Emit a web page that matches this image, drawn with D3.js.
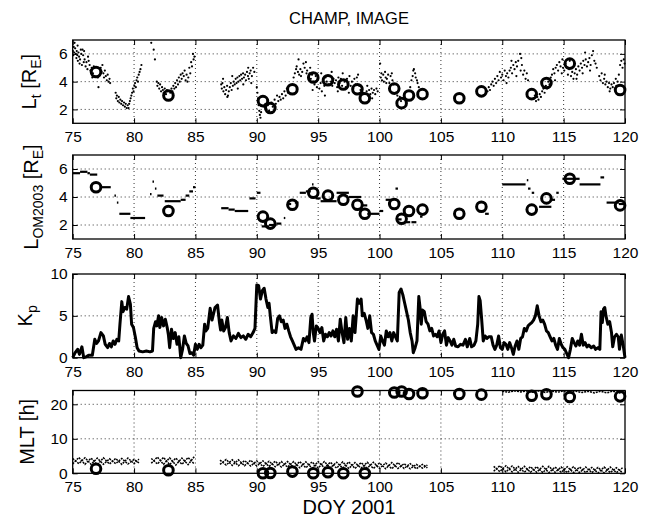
<!DOCTYPE html>
<html><head><meta charset="utf-8">
<script src="https://cdn.jsdelivr.net/npm/d3@7"></script>
<style>body{margin:0;background:#fff} text{font-family:"Liberation Sans",Arial,Helvetica,sans-serif;fill:#000}</style>
</head><body><svg id="c" width="649" height="521"></svg>
<script>
// ---------------- DATA ----------------
const xTicks = [75,80,85,90,95,100,105,110,115,120];
// IMAGE plasmapause events
const evDoy = [76.9,82.8,90.5,91.1,92.9,94.6,95.8,97.05,98.2,98.8,101.2,101.8,102.4,103.5,106.5,108.3,112.4,113.6,115.5,119.6];
const evL   = [4.7,3.0,2.6,2.1,3.45,4.3,4.1,3.8,3.45,2.8,3.5,2.45,3.0,3.1,2.8,3.3,3.1,3.9,5.3,3.4];
const evMLT = [1.3,0.9,0.0,0.1,0.5,0.0,0.3,0.0,23.7,0.0,23.4,23.7,23.0,23.2,23.0,22.8,22.5,22.9,22.1,22.3];
// CHAMP L_t points
const ltDots = [
[75.02,6.2],[75.05,5.9],[75.08,6.5],[75.12,6.1],[75.15,6.8],[75.2,6.4],[75.25,6.0],[75.3,5.7],[75.33,6.2],[75.38,5.9],[75.4,6.6],[75.42,5.5],[75.47,6.1],[75.52,5.8],[75.56,5.3],[75.6,5.6],[75.66,6.3],[75.7,6.0],[75.75,5.2],[75.8,6.3],[75.85,5.9],[75.9,5.4],[75.93,6.2],[75.97,5.6],[76.05,5.1],[76.12,5.4],[76.2,4.9],[76.25,5.8],[76.3,5.5],[76.38,5.2],[76.45,4.8],[76.55,5.0],[76.6,4.3],[76.65,4.6],[76.72,5.1],
[77.05,4.3],[77.1,3.6],[77.2,4.5],[77.28,5.0],[77.35,4.7],[77.42,5.2],[77.5,4.6],[77.55,4.3],[77.62,4.8],[77.7,4.4],[77.78,4.1],[77.85,4.5],[77.92,4.0],[78.0,4.2],[78.05,3.9],
[78.5,3.2],[78.55,2.8],[78.6,3.0],[78.68,2.6],[78.75,2.9],[78.8,2.5],[78.88,2.7],[78.95,2.4],[79.02,2.6],[79.1,2.3],[79.18,2.5],[79.25,2.2],[79.32,2.4],[79.4,2.1],[79.48,2.3],[79.55,2.1],[79.6,2.4],[79.66,2.6],[79.72,2.8],[79.78,3.0],[79.84,3.2],[79.9,3.5],[79.96,3.3],[80.02,3.7],[80.08,3.9],[80.14,3.6],[80.2,4.1],[80.26,4.3],[80.32,4.0],[80.38,4.5],[80.45,4.7],[80.52,4.9],[80.6,5.2],
[81.4,6.8],[81.6,6.3],[81.7,5.6],
[81.85,4.0],[81.9,3.7],[81.98,3.9],[82.05,3.5],[82.12,3.8],[82.2,3.3],[82.28,3.6],[82.35,3.4],[82.42,3.2],[82.5,3.5],[82.6,3.1],[82.68,3.4],[82.95,3.2],[83.05,3.5],[83.12,3.3],[83.2,3.7],[83.28,3.5],[83.35,3.9],[83.42,3.6],[83.5,4.1],[83.58,3.8],[83.65,4.3],[83.72,4.0],[83.8,4.5],[83.88,4.2],[83.95,4.6],[84.05,4.4],[84.12,4.8],[84.2,4.1],[84.28,4.5],[84.35,4.0],[84.42,4.3],[84.5,5.0],[84.58,4.6],[84.65,5.4],[84.72,5.1],[84.8,6.0],[84.85,5.6],[84.92,5.8],
[87.1,3.8],[87.15,3.5],[87.2,3.9],[87.25,4.2],[87.28,3.3],[87.35,3.6],[87.42,3.1],[87.5,3.4],[87.58,3.7],[87.6,2.9],[87.65,3.0],[87.72,3.3],[87.8,3.6],[87.88,3.9],[87.95,3.4],[88.0,4.4],[88.05,3.7],[88.12,4.0],[88.2,3.8],[88.28,4.2],[88.35,3.9],[88.42,4.3],[88.45,3.5],[88.5,4.0],[88.58,4.4],[88.65,4.1],[88.72,4.5],[88.8,4.2],[88.88,4.6],[88.9,3.8],[88.95,4.3],[89.05,4.5],[89.12,4.1],[89.2,4.7],[89.28,4.4],[89.3,5.0],[89.35,4.2],[89.42,4.6],[89.5,4.8],[89.55,3.9],[89.6,4.4],[89.7,5.0],[89.8,4.7],
[90.0,3.6],[90.05,3.2],[90.1,2.8],[90.15,2.3],[90.2,1.9],[90.25,1.6],[90.3,1.4],[90.35,1.8],
[90.6,2.2],[90.7,2.4],[90.8,2.0],[90.9,2.3],[91.0,1.9],[91.2,2.5],[91.3,2.2],[91.45,2.7],[91.55,2.4],[91.65,3.0],[91.75,2.6],[91.85,2.9],[91.95,2.7],[92.05,3.1],[92.15,2.8],[92.25,3.3],[92.35,3.0],[92.45,3.5],[92.55,3.2],[92.65,3.7],
[93.0,4.3],[93.1,4.6],[93.2,4.9],[93.25,5.1],[93.35,4.7],[93.4,5.6],[93.45,4.5],[93.55,4.9],[93.6,4.4],[93.7,4.7],[93.8,5.3],[93.9,5.0],[94.0,5.4],[94.05,4.6],[94.1,4.8],[94.2,4.3],
[94.3,4.6],[94.35,5.0],[94.4,4.2],[94.5,4.5],[94.55,3.4],[94.6,4.0],[94.7,3.8],[94.8,4.4],[94.9,3.6],[95.0,4.2],[95.1,3.5],[95.2,3.9],[95.25,4.6],[95.3,3.3],[95.4,4.1],[95.5,3.7],[95.55,3.0],[95.6,4.3],[95.7,4.0],[95.85,3.8],[95.95,4.4],[96.05,4.0],[96.1,4.7],[96.15,3.7],[96.25,4.2],[96.35,3.9],[96.45,4.1],[96.55,3.6],[96.6,3.3],[96.65,4.3],[96.75,3.9],[96.85,4.2],[96.95,3.7],[97.0,4.6],[97.15,4.0],[97.25,3.6],[97.35,4.2],[97.45,3.9],[97.5,3.2],[97.55,4.4],[97.65,3.7],[97.75,4.0],[97.85,3.5],[97.95,4.2],[98.05,3.8],[98.1,3.1],[98.15,4.3],[98.25,4.5],[98.35,3.7],[98.45,3.4],[98.55,3.6],[98.65,3.2],[98.95,3.3],[99.0,3.7],[99.05,3.0],[99.15,3.4],[99.25,3.1],[99.35,3.5],[99.4,2.8],[99.45,3.2],[99.55,3.4],[99.65,3.1],[99.75,3.5],[99.85,3.3],
[100.05,5.3],[100.1,4.3],[100.15,4.6],[100.2,4.1],[100.3,4.5],[100.35,4.0],[100.45,4.7],[100.5,4.3],[100.55,3.9],[100.6,4.2],[100.7,4.5],[100.8,3.9],[100.9,4.4],[101.0,4.6],[101.05,4.1],[101.15,3.8],
[101.45,3.0],[101.55,2.7],[101.65,2.9],[101.75,2.6],
[102.5,3.6],[102.6,4.1],[102.7,4.4],[102.75,4.8],[102.8,4.9],[102.9,4.6],[102.95,4.3],[103.05,4.1],[103.1,3.9],[103.2,3.6],
[108.8,3.3],[108.9,3.6],[109.0,3.4],[109.1,3.8],[109.2,4.0],[109.3,3.7],[109.4,4.2],[109.5,3.9],[109.6,4.4],[109.7,4.1],[109.8,4.7],[109.9,4.3],[110.0,4.5],[110.1,4.1],[110.2,4.8],[110.3,4.4],[110.35,3.9],[110.4,4.6],[110.5,4.3],[110.6,4.8],[110.7,5.0],[110.75,5.5],[110.8,4.6],[110.9,5.2],[111.0,4.9],[111.1,5.4],[111.15,4.4],[111.2,5.1],[111.3,5.5],[111.45,6.0],[111.5,4.8],[111.55,5.7],[111.6,5.2],[111.7,4.5],[111.8,4.8],[111.9,4.2],[112.0,4.6],[112.1,4.1],
[112.55,2.8],[112.65,3.0],[112.75,2.6],[112.85,2.9],[112.95,2.7],[113.05,3.1],[113.15,2.9],[113.25,3.3],[113.35,3.5],[113.45,3.2],[113.55,3.7],[113.65,3.5],[113.75,4.0],[113.85,3.8],[113.95,4.3],
[114.05,4.5],[114.15,4.9],[114.25,4.6],[114.3,4.1],[114.35,5.0],[114.45,5.2],[114.55,4.8],[114.65,5.4],[114.75,5.1],[114.85,4.6],[114.9,5.6],[114.95,5.0],[115.05,4.8],[115.15,5.3],[115.25,5.0],[115.35,4.5],[115.45,4.9],[115.5,5.5],[115.6,4.4],[115.7,4.7],[115.8,4.2],[115.9,4.6],[116.0,4.9],[116.05,4.2],[116.1,4.5],[116.2,5.1],[116.3,4.8],[116.4,5.3],[116.5,5.0],[116.55,4.6],[116.6,5.5],[116.7,5.2],[116.75,6.1],[116.8,5.6],[116.9,5.1],[117.0,5.4],[117.1,5.7],[117.15,4.8],[117.2,5.2],[117.3,5.9],[117.4,6.2],[117.5,5.5],[117.6,5.3],[117.7,5.0],
[117.9,4.4],[118.0,4.1],[118.1,4.6],[118.2,3.9],[118.3,4.2],[118.35,4.5],[118.4,3.8],[118.5,4.0],[118.6,3.6],[118.7,3.9],[118.75,3.3],[118.8,3.5],[118.9,3.8],[119.0,3.6],[119.1,3.9],[119.2,3.5],[119.25,4.2],[119.3,3.7],[119.4,4.0],[119.5,4.5],[119.6,5.2],[119.7,5.5],[119.8,5.0],[119.9,5.6],[119.97,5.3]
];
// L_OM2003 model: [start DOY, end DOY, L]
const omSegs = [
[75,75.6,5.7],[75.6,76.2,5.8],[76.2,76.4,5.7],[76.4,77,5.6],[77.3,78.1,4.7],[78.4,78.45,4.1],[78.6,78.65,3.6],
[78.8,79.7,2.8],[79.7,80.9,2.5],[81.3,81.4,4.2],[81.5,81.55,5.1],[81.7,81.75,4.6],[81.9,82.4,4.1],[82.5,83.8,3.7],[83.8,84.2,3.8],[84.2,84.5,4.1],[84.5,84.8,4.4],[84.8,85,4.7],
[87.1,87.7,3.2],[87.7,88.2,3.1],[88.2,89.3,3.0],[89.4,89.9,3.9],[90,90.3,4.3],[90.4,91,1.9],[91,91.6,2.0],[91.6,92,2.1],[92.2,92.3,2.5],[92.6,92.8,3.5],
[93.1,93.4,3.6],[93.5,94,4.3],[94,94.4,4.4],[94.5,94.6,4.9],[94.8,95.2,3.9],[95.2,96.5,3.7],[96.5,97.5,4.3],[97.5,98.5,4.0],[98.5,99,3.4],[99,100,2.8],[100,100.3,3.0],
[100.5,101,3.8],[101.3,101.5,4.6],[101.5,101.8,2.4],[102,102.5,2.2],[102.6,103.0,2.2],[103.3,103.5,2.6],[108.6,108.9,2.8],
[110,111.9,4.9],[112,112.1,5.2],[112.1,112.3,4.6],[112.4,112.6,4.3],[113,114,3.3],[114,114.3,3.8],[114.4,114.6,4.3],
[114.9,116.3,5.3],[116.3,118,4.9],[118,118.3,5.4],[118.5,119.5,3.6],[119.5,120,3.5]
];
// Kp index
const kpSeries = [
[75.0,0],[75.2,0.6],[75.4,1.0],[75.55,0.4],[75.75,1.3],[75.9,0],[76.1,0.1],[76.3,0.3],[76.6,0.3],[76.8,2.2],[76.95,1.7],[77.1,2.0],[77.3,3.0],[77.5,2.6],[77.65,1.6],[77.85,1.2],[78.0,1.7],[78.15,1.3],[78.3,2.0],[78.45,1.6],[78.6,2.2],[78.75,2.0],[78.85,4.0],[79.0,6.7],[79.1,5.5],[79.25,6.0],[79.4,5.8],[79.55,7.3],[79.7,6.4],[79.8,4.0],[79.95,3.6],[80.1,2.5],[80.25,1.2],[80.4,0.8],[80.7,0.7],[81.0,0.8],[81.3,0.7],[81.5,0.8],[81.6,3.5],[81.75,4.3],[81.85,3.8],[82.0,5.0],[82.1,3.6],[82.25,4.8],[82.4,3.8],[82.55,4.6],[82.7,3.6],[82.8,2.7],[82.9,1.2],[83.05,3.4],[83.2,2.3],[83.35,3.0],[83.5,1.6],[83.65,2.5],[83.8,0.0],[83.95,1.0],[84.1,2.6],[84.25,1.7],[84.4,1.4],[84.55,0.5],[84.7,0.6],[84.85,0.3],[85.0,1.6],[85.15,1.0],[85.3,1.6],[85.45,1.2],[85.6,1.5],[85.75,4.0],[85.85,3.2],[86.0,3.5],[86.2,5.9],[86.35,4.5],[86.6,6.0],[86.8,6.3],[86.95,4.3],[87.05,3.3],[87.15,4.5],[87.3,3.2],[87.45,3.6],[87.6,4.8],[87.75,3.0],[87.9,2.0],[88.1,2.6],[88.3,2.3],[88.5,2.9],[88.7,2.4],[88.9,2.6],[89.1,2.2],[89.3,2.8],[89.5,2.5],[89.7,3.0],[89.85,3.5],[90.0,8.7],[90.15,8.6],[90.3,7.0],[90.45,8.0],[90.6,8.3],[90.75,7.0],[90.9,6.0],[91.0,6.5],[91.1,5.0],[91.25,3.0],[91.4,3.2],[91.55,3.0],[91.7,4.7],[91.85,5.0],[92.0,4.3],[92.15,4.5],[92.3,3.5],[92.45,4.0],[92.6,3.2],[92.75,2.5],[92.9,2.0],[93.05,1.5],[93.2,1.0],[93.4,1.2],[93.6,1.0],[93.8,2.3],[93.95,2.0],[94.1,2.5],[94.25,1.8],[94.4,4.8],[94.5,5.2],[94.6,3.0],[94.7,2.0],[94.85,3.8],[95.0,3.5],[95.15,3.0],[95.3,3.6],[95.45,2.0],[95.6,2.8],[95.75,2.5],[95.9,3.0],[96.05,2.6],[96.2,3.2],[96.35,2.5],[96.5,3.4],[96.65,2.0],[96.8,4.6],[96.95,3.0],[97.1,1.8],[97.25,4.8],[97.4,2.2],[97.55,3.5],[97.7,2.0],[97.85,5.0],[98.0,3.0],[98.2,7.0],[98.35,6.5],[98.5,7.0],[98.6,5.0],[98.75,5.3],[98.9,4.5],[99.05,3.5],[99.2,5.0],[99.35,3.0],[99.5,2.8],[99.65,2.0],[99.8,1.5],[99.95,1.0],[100.1,2.6],[100.25,2.0],[100.4,1.5],[100.55,3.2],[100.7,2.5],[100.85,3.0],[101.0,2.0],[101.15,3.0],[101.3,2.5],[101.45,2.0],[101.6,7.8],[101.75,8.2],[101.9,7.5],[102.05,6.5],[102.2,5.5],[102.35,4.5],[102.5,3.0],[102.65,2.0],[102.75,0.6],[102.9,1.2],[103.05,2.0],[103.2,7.3],[103.3,6.0],[103.4,4.0],[103.5,5.7],[103.65,5.5],[103.8,4.3],[103.95,4.0],[104.1,3.2],[104.25,3.5],[104.4,2.6],[104.55,2.8],[104.7,2.5],[104.85,3.2],[105.0,1.8],[105.15,2.8],[105.3,3.2],[105.45,1.5],[105.6,2.4],[105.75,2.0],[105.9,1.5],[106.05,2.2],[106.2,1.4],[106.4,1.3],[106.6,1.6],[106.8,1.5],[107.0,2.2],[107.15,1.3],[107.35,2.3],[107.5,1.3],[107.7,1.5],[107.85,2.0],[108.0,4.0],[108.1,7.3],[108.2,6.8],[108.3,5.0],[108.45,2.0],[108.6,2.6],[108.75,2.3],[108.9,2.5],[109.1,2.5],[109.25,1.5],[109.4,1.0],[109.55,1.5],[109.7,2.6],[109.85,1.2],[110.0,1.0],[110.15,1.8],[110.3,1.6],[110.45,1.0],[110.6,1.8],[110.75,1.2],[110.9,0.4],[111.05,1.4],[111.2,2.0],[111.35,1.0],[111.5,2.3],[111.65,2.5],[111.8,3.5],[111.95,3.2],[112.1,3.8],[112.25,4.0],[112.4,4.2],[112.55,4.5],[112.7,5.0],[112.85,6.2],[113.0,5.0],[113.15,4.3],[113.3,4.5],[113.45,4.0],[113.6,3.2],[113.75,3.0],[113.9,2.5],[114.05,2.0],[114.2,2.3],[114.35,1.5],[114.5,1.0],[114.65,2.3],[114.8,1.6],[114.95,1.2],[115.1,1.0],[115.25,0.5],[115.4,0.0],[115.55,1.0],[115.7,2.3],[115.85,1.8],[116.0,1.4],[116.15,2.0],[116.3,1.5],[116.45,2.8],[116.6,1.5],[116.75,1.8],[116.9,1.3],[117.05,1.5],[117.25,1.2],[117.45,1.4],[117.6,1.0],[117.8,1.2],[117.95,1.0],[118.05,5.5],[118.15,4.2],[118.25,5.8],[118.35,6.0],[118.45,5.0],[118.6,4.0],[118.75,4.3],[118.9,3.0],[119.0,1.3],[119.15,2.5],[119.3,2.8],[119.45,2.5],[119.55,1.0],[119.7,2.7],[119.85,1.5],[120,0]
];
// CHAMP MLT tracks (zig-zag vertices)
const mltTracks = [
[[75,2.7],[75.5,4.6],[76,2.6],[76.5,4.4],[77,2.5],[77.5,4.5],[78,2.7],[78.5,4.3],[79,2.6],[79.5,4.4],[80,2.8],[80.4,4.1]],
[[75,4.3],[75.5,2.8],[76,4.5],[76.5,2.6],[77,4.4],[77.5,2.6],[78,4.2],[78.5,2.8],[79,4.3],[79.5,2.7],[80,4.0],[80.4,3.0]],
[[81.4,2.9],[81.9,4.7],[82.4,2.6],[82.9,4.5],[83.4,2.4],[83.9,4.4],[84.4,2.5],[84.9,4.8]],
[[81.4,4.3],[81.9,2.7],[82.4,4.6],[82.9,2.5],[83.4,4.4],[83.9,2.6],[84.4,4.6],[84.9,2.7]],
[[87,2.6],[87.5,4.0],[88,2.3],[88.5,3.9],[89,2.2],[89.5,3.8],[90,2.1],[90.5,3.6],[91,2.0],[91.5,3.5],[92,1.8],[92.5,3.4],[93,1.7],[93.5,3.4],[94,1.6],[94.5,3.3],[95,1.5],[95.5,3.4],[96,1.6],[96.5,3.2],[97,1.5],[97.5,3.3],[98,1.4],[98.5,3.1],[99,1.5],[99.5,3.2],[100,1.4],[100.5,3.0],[101,1.3],[101.5,3.1],[102,1.4],[102.5,2.8],[103,1.3],[103.5,2.6],[103.9,1.6]],
[[87,3.8],[87.5,2.4],[88,3.9],[88.5,2.2],[89,3.7],[89.5,2.1],[90,3.6],[90.5,2.0],[91,3.5],[91.5,1.9],[92,3.4],[92.5,1.8],[93,3.4],[93.5,1.6],[94,3.3],[94.5,1.5],[95,3.4],[95.5,1.6],[96,3.2],[96.5,1.5],[97,3.3],[97.5,1.4],[98,3.1],[98.5,1.5],[99,3.2],[99.5,1.4],[100,3.0],[100.5,1.3],[101,3.1],[101.5,1.4],[102,2.8],[102.5,1.3],[103,2.6],[103.5,1.5],[103.9,2.4]],
[[109.3,0.6],[109.8,2.2],[110.3,0.4],[110.8,2.1],[111.3,0.3],[111.8,2.0],[112.3,0.3],[112.8,1.9],[113.3,0.2],[113.8,2.0],[114.3,0.3],[114.8,1.8],[115.3,0.2],[115.8,1.9],[116.3,0.2],[116.8,1.8],[117.3,0.2],[117.8,1.7],[118.3,0.1],[118.8,1.8],[119.3,0.2],[119.8,1.6]],
[[109.3,2.0],[109.8,0.5],[110.3,2.2],[110.8,0.4],[111.3,2.0],[111.8,0.3],[112.3,1.9],[112.8,0.3],[113.3,2.0],[113.8,0.2],[114.3,1.8],[114.8,0.3],[115.3,1.9],[115.8,0.2],[116.3,1.8],[116.8,0.2],[117.3,1.7],[117.8,0.1],[118.3,1.8],[118.8,0.2],[119.3,1.6],[119.8,0.2]],
[[110,23.8],[110.5,23.5],[111,23.9],[111.5,23.6],[112,23.9],[112.5,23.5],[113,23.9],[113.5,23.4],[114,23.9],[114.5,23.5],[115,23.9],[115.5,23.4],[116,23.8],[116.5,23.4],[117,23.8],[117.5,23.3],[118,23.8],[118.5,23.3],[119,23.8],[119.5,23.3],[120,23.7]]
];
const lTicks = [2,4,6], kpTicks = [0,5,10], mltTicks = [0,10,20];

// ---------------- DRAW ----------------
const svg = d3.select('#c');
svg.append('rect').attr('width',649).attr('height',521).attr('fill','#fff');
const x = d3.scaleLinear().domain([75,120]).range([72.7,625]);
const P = [
  {top:40,  bot:123.3, dom:[1,7],  ticks:lTicks},
  {top:155, bot:239,   dom:[1,7],  ticks:lTicks},
  {top:274, bot:357.7, dom:[0,10], ticks:kpTicks},
  {top:390.5, bot:473.3, dom:[0,24], ticks:mltTicks}
];
P.forEach(p => p.y = d3.scaleLinear().domain(p.dom).range([p.bot,p.top]));

function frame(p){
  const g = svg.append('g');
  const [x0,x1] = x.range();
  g.selectAll('.gx').data(xTicks.filter(t=>t>75&&t<120)).join('line')
    .attr('x1',d=>x(d)).attr('x2',d=>x(d)).attr('y1',p.top).attr('y2',p.bot)
    .attr('stroke','#000').attr('stroke-width',0.8).attr('stroke-dasharray','1,3');
  g.selectAll('.gy').data(p.ticks.filter(t=>t>p.dom[0]&&t<p.dom[1])).join('line')
    .attr('y1',d=>p.y(d)).attr('y2',d=>p.y(d)).attr('x1',x0).attr('x2',x1)
    .attr('stroke','#000').attr('stroke-width',0.8).attr('stroke-dasharray','1,3');
  return g;
}
function axes(p){
  const g = svg.append('g');
  const [x0,x1] = x.range();
  g.append('g').attr('transform',`translate(0,${p.bot})`)
    .call(d3.axisBottom(x).tickValues(xTicks).tickSize(-5).tickPadding(8).tickFormat(d3.format('d')));
  g.append('g').attr('transform',`translate(0,${p.top})`)
    .call(d3.axisTop(x).tickValues(xTicks).tickSize(-5).tickFormat(''));
  g.append('g').attr('transform',`translate(${x0},0)`)
    .call(d3.axisLeft(p.y).tickValues(p.ticks).tickSize(-5).tickPadding(5).tickFormat(d3.format('d')));
  g.append('g').attr('transform',`translate(${x1},0)`)
    .call(d3.axisRight(p.y).tickValues(p.ticks).tickSize(-5).tickFormat(''));
  g.selectAll('.domain').remove();
  g.selectAll('.tick line').attr('stroke','#000').attr('stroke-width',1);
  g.selectAll('.tick text').attr('font-size',15.5).attr('font-family','Liberation Sans, Arial, sans-serif').attr('fill','#000');
  g.append('rect').attr('x',x0).attr('y',p.top).attr('width',x1-x0).attr('height',p.bot-p.top)
    .attr('fill','none').attr('stroke','#000').attr('stroke-width',1.3);
}
function circles(p, vals){
  svg.append('g').selectAll('circle').data(evDoy).join('circle')
    .attr('cx',d=>x(d)).attr('cy',(d,i)=>p.y(vals[i])).attr('r',4.8)
    .attr('fill','none').attr('stroke','#000').attr('stroke-width',3);
}
function ylab(p, xb, parts){
  const t = svg.append('text').attr('transform',`translate(${xb},${(p.top+p.bot)/2}) rotate(-90)`)
    .attr('text-anchor','middle').attr('font-size',20);
  let sub = false;
  parts.forEach(([s,isSub])=>{
    const dy = isSub ? (sub?0:5) : (sub?-5:0);
    t.append('tspan').attr('font-size', isSub?14:20).attr('dy',dy).text(s);
    sub = !!isSub;
  });
}

// Panel 1
frame(P[0]);
svg.append('g').selectAll('circle').data(ltDots).join('circle')
  .attr('cx',d=>x(d[0])).attr('cy',d=>P[0].y(d[1])).attr('r',1.1).attr('fill','#000');
circles(P[0], evL);
axes(P[0]);

// Panel 2
frame(P[1]);
svg.append('g').selectAll('line').data(omSegs).join('line')
  .attr('x1',d=>x(d[0])).attr('x2',d=>Math.max(x(d[1]),x(d[0])+1.5)).attr('y1',d=>P[1].y(d[2])).attr('y2',d=>P[1].y(d[2]))
  .attr('stroke','#000').attr('stroke-width',2.2);
circles(P[1], evL);
axes(P[1]);

// Panel 3
frame(P[2]);
svg.append('path').datum(kpSeries)
  .attr('d', d3.line().x(d=>x(d[0])).y(d=>P[2].y(d[1])))
  .attr('fill','none').attr('stroke','#000').attr('stroke-width',3).attr('stroke-linejoin','round');
axes(P[2]);

// Panel 4
frame(P[3]);
const ln = d3.line().x(d=>x(d[0])).y(d=>P[3].y(d[1]));
svg.append('g').selectAll('path').data(mltTracks).join('path')
  .attr('d',ln).attr('fill','none').attr('stroke','#000').attr('stroke-width',1.5).attr('stroke-dasharray','2,1');
circles(P[3], evMLT);
axes(P[3]);

// labels
svg.append('text').attr('x',349).attr('y',24).attr('text-anchor','middle').attr('font-size',16.5).text('CHAMP, IMAGE');
svg.append('text').attr('x',349).attr('y',514).attr('text-anchor','middle').attr('font-size',20).text('DOY 2001');
ylab(P[0], 36, [['L'],['t',1],[' [R'],['E',1],[']']]);
ylab(P[1], 38, [['L'],['OM2003',1],[' [R'],['E',1],[']']]);
ylab(P[2], 32, [['K'],['p',1]]);
ylab(P[3], 34, [['MLT [h]']]);
</script></body></html>
